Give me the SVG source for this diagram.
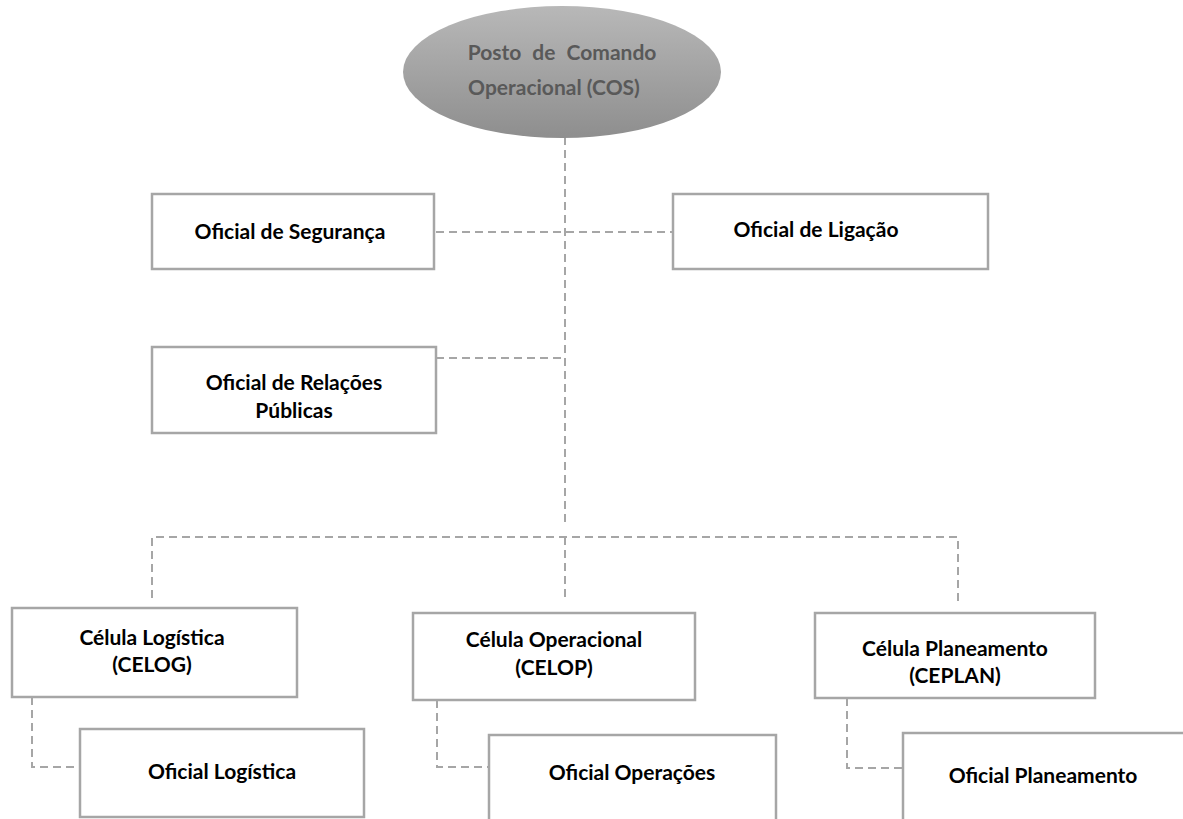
<svg xmlns="http://www.w3.org/2000/svg" width="1183" height="819" viewBox="0 0 1183 819">
<defs>
<linearGradient id="g" x1="0" y1="0" x2="0" y2="1">
<stop offset="0" stop-color="#b8b8b8"/>
<stop offset="1" stop-color="#8e8e8e"/>
</linearGradient>
</defs>
<style>
.box{fill:#fff;stroke:#a6a6a6;stroke-width:2.5}
.t{font-family:Lato,"Liberation Sans",sans-serif;font-weight:bold;font-size:21px;fill:#000;text-anchor:middle}
.e{fill:#595959}
.c{fill:none;stroke:#a6a6a6;stroke-width:2;stroke-dasharray:8 5}
</style>
<rect width="1183" height="819" fill="#fff"/>
<g id="connectors">
<path class="c" d="M565 137 V522"/>
<path class="c" d="M436 232 H673"/>
<path class="c" d="M436 358 H565"/>
<path class="c" d="M152 598 V537 H958 V602"/>
<path class="c" d="M565 537 V602"/>
<path class="c" d="M32 697 V767 H80"/>
<path class="c" d="M437 700 V767 H489"/>
<path class="c" d="M847 698 V768 H903"/>
</g>
<g id="cos">
<ellipse cx="562" cy="72" rx="159" ry="66" fill="url(#g)"/>
<text class="t e" x="562" y="60" word-spacing="6">Posto de Comando</text>
<text class="t e" x="554" y="95">Operacional (COS)</text>
</g>
<g id="seguranca">
<rect class="box" x="152" y="194" width="282" height="75"/>
<text class="t" x="290" y="239">Oficial de Segurança</text>
</g>
<g id="ligacao">
<rect class="box" x="673" y="194" width="315" height="75"/>
<text class="t" x="816" y="237">Oficial de Ligação</text>
</g>
<g id="relacoes">
<rect class="box" x="152" y="347" width="284" height="86"/>
<text class="t" x="294" y="390">Oficial de Relações</text>
<text class="t" x="294" y="418">Públicas</text>
</g>
<g id="celog">
<rect class="box" x="12" y="608" width="285" height="89"/>
<text class="t" x="152" y="645">Célula Logística</text>
<text class="t" x="152" y="672">(CELOG)</text>
</g>
<g id="celop">
<rect class="box" x="413" y="613" width="282" height="87"/>
<text class="t" x="554" y="647">Célula Operacional</text>
<text class="t" x="554" y="675">(CELOP)</text>
</g>
<g id="ceplan">
<rect class="box" x="815" y="613" width="280" height="85"/>
<text class="t" x="955" y="656">Célula Planeamento</text>
<text class="t" x="955" y="683">(CEPLAN)</text>
</g>
<g id="ofLog">
<rect class="box" x="80" y="729" width="284" height="88"/>
<text class="t" x="222" y="779">Oficial Logística</text>
</g>
<g id="ofOp">
<rect class="box" x="489" y="735" width="287" height="90"/>
<text class="t" x="632" y="780">Oficial Operações</text>
</g>
<g id="ofPlan">
<rect class="box" x="903" y="733" width="285" height="90"/>
<text class="t" x="1043" y="783">Oficial Planeamento</text>
</g>
</svg>
